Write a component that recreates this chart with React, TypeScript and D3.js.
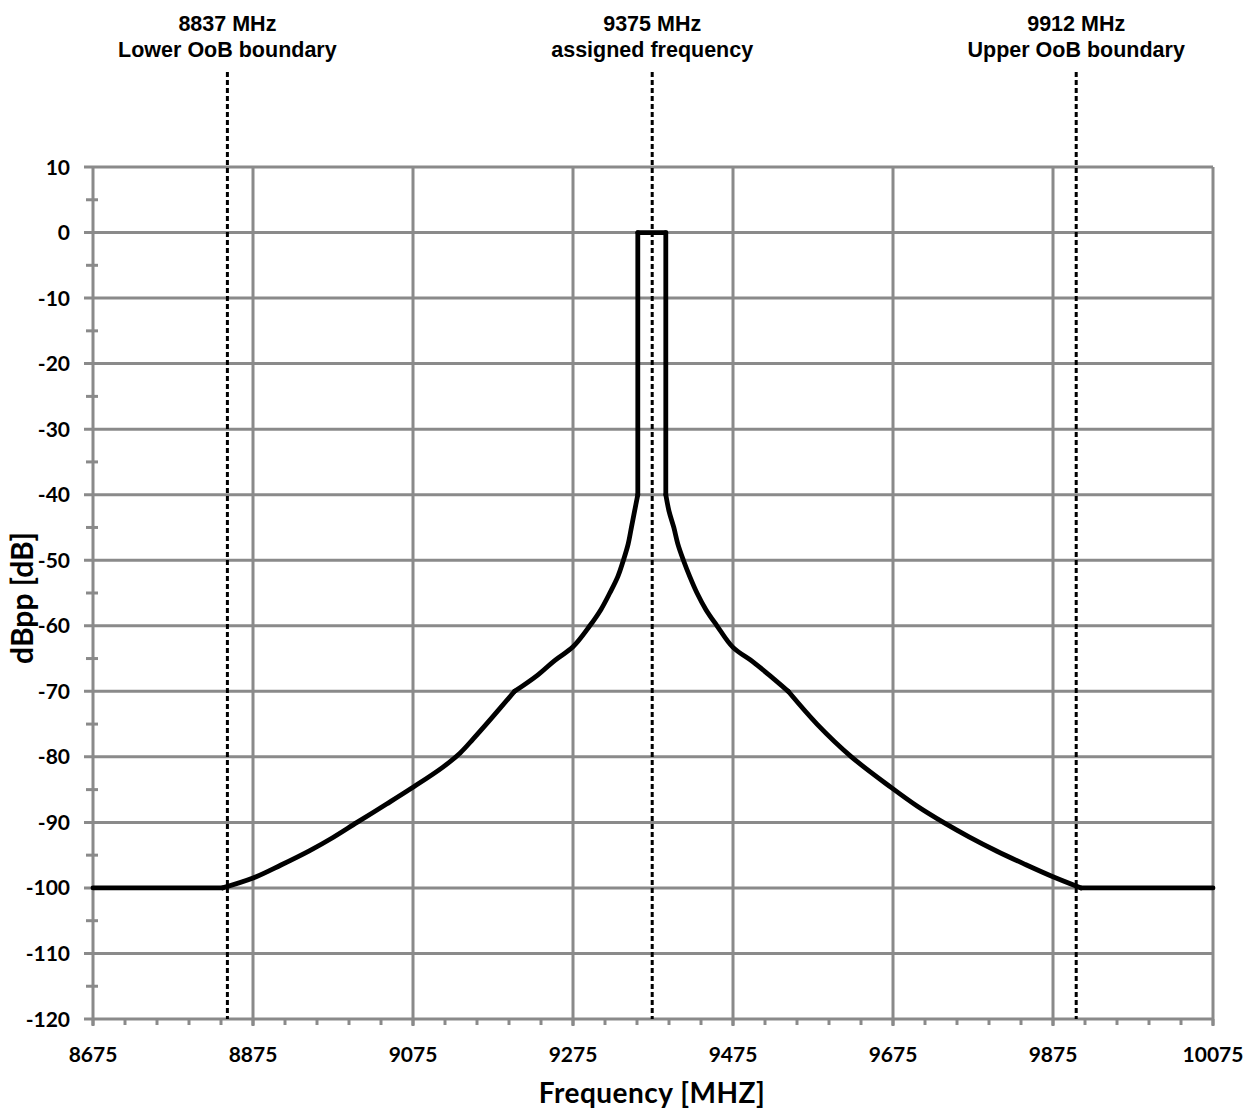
import React from "react";
import * as d3 from "d3";

// spectrum mask (MHz, dBpp)
const freq = [
  8675, 8837, 8875, 8910, 8946, 8975, 9005, 9042, 9073, 9112, 9134, 9150, 9171, 9202,
  9230, 9252, 9275, 9296, 9310, 9321, 9331, 9338, 9344, 9348, 9352, 9356,
  9356, 9391,
  9391, 9395, 9401, 9406, 9413, 9421, 9430, 9441, 9455, 9475, 9500, 9520, 9544,
  9580, 9623, 9673, 9705, 9738, 9770, 9805, 9840, 9875, 9910, 10075,
];
const dbpp = [
  -100, -100, -98.5, -96.5, -94.3, -92.3, -90, -87.2, -84.8, -81.6, -79.4, -77.3, -74.4, -70,
  -67.6, -65.3, -63.2, -60, -57.5, -55, -52.5, -50, -47.5, -45, -42.5, -40,
  0, 0,
  -40, -42.5, -45, -47.5, -50, -52.5, -55, -57.5, -60, -63.3, -65.5, -67.5, -70,
  -75, -80, -84.7, -87.5, -90, -92.2, -94.4, -96.4, -98.3, -100, -100,
];
// where the mask has corners
const kinks = [8837, 9202, 9356, 9391, 9544, 9910];

// marker lines (plotted position) and their labels
const markerFreq = [8843, 9374, 9904];
const markerTop = ["8837 MHz", "9375 MHz", "9912 MHz"];
const markerBottom = ["Lower OoB boundary", "assigned frequency", "Upper OoB boundary"];

const xTicks = [8675, 8875, 9075, 9275, 9475, 9675, 9875, 10075];
const yTicks = [10, 0, -10, -20, -30, -40, -50, -60, -70, -80, -90, -100, -110, -120];

const W = 1245;
const H = 1108;
const left = 93;
const right = 1213;
const top = 167;
const bottom = 1019;

const grid = "#8a8a8a";
const tickFont = "Lato, 'Noto Sans', sans-serif";
const labelFont = "'Liberation Sans', Arial, sans-serif";

type P = [number, number];

export default function App() {
  const x = d3.scaleLinear().domain([8675, 10075]).range([left, right]);
  const y = d3.scaleLinear().domain([10, -120]).range([top, bottom]);

  const pts: P[] = freq.map((f, i) => [f, dbpp[i]]);

  // split the mask at its corners, smooth the curved runs only
  const runs: P[][] = [];
  let cur: P[] = [];
  pts.forEach((p, i) => {
    cur.push(p);
    const next = pts[i + 1];
    const corner = kinks.includes(p[0]) && cur.length > 1;
    const vert = next && next[0] === p[0];
    if ((corner || vert) && i < pts.length - 1) {
      runs.push(cur);
      cur = [p];
    }
  });
  runs.push(cur);

  const smooth = d3.line<P>().x((d) => x(d[0])).y((d) => y(d[1])).curve(d3.curveCatmullRom.alpha(0.5));
  const straight = d3.line<P>().x((d) => x(d[0])).y((d) => y(d[1]));

  const minorX = d3.range(8675, 10076, 40);
  const minorY = d3.range(10, -121, -5).filter((v) => v % 10 !== 0);

  return (
    <svg
      width={W}
      height={H}
      style={{ position: "absolute", left: 0, top: 0, background: "#fff" }}
    >
      {/* grid */}
      <g stroke={grid} strokeWidth={3}>
        {yTicks.map((t) => (
          <line key={"h" + t} x1={left - 9} x2={right} y1={y(t)} y2={y(t)} />
        ))}
        {xTicks.map((t) => (
          <line key={"v" + t} x1={x(t)} x2={x(t)} y1={top} y2={bottom + 7} />
        ))}
        {minorX.map((t) => (
          <line key={"mx" + t} x1={x(t)} x2={x(t)} y1={bottom} y2={bottom + 6} />
        ))}
        {minorY.map((t) => (
          <line key={"my" + t} x1={left - 7} x2={left + 5} y1={y(t)} y2={y(t)} />
        ))}
      </g>

      {/* tick labels */}
      <g fontFamily={tickFont} fontWeight="bold" fontSize={21} fill="#000">
        {yTicks.map((t) => (
          <text key={"yl" + t} x={70} y={y(t)} dy="0.36em" textAnchor="end">
            {t}
          </text>
        ))}
        {xTicks.map((t) => (
          <text key={"xl" + t} x={x(t)} y={1062} textAnchor="middle">
            {t}
          </text>
        ))}
      </g>

      {/* axis titles */}
      <text
        x={652}
        y={1103}
        textAnchor="middle"
        fontFamily={tickFont}
        fontWeight="bold"
        fontSize={28}
        letterSpacing={0.5}
      >
        Frequency [MHZ]
      </text>
      <text
        transform={`translate(33,598) rotate(-90)`}
        textAnchor="middle"
        fontFamily={tickFont}
        fontWeight="bold"
        fontSize={30}
      >
        dBpp [dB]
      </text>

      {/* marker lines */}
      {markerFreq.map((f, i) => (
        <g key={"m" + i}>
          <line
            x1={x(f)}
            x2={x(f)}
            y1={72}
            y2={bottom}
            stroke="#000"
            strokeWidth={3}
            strokeDasharray="5 3"
          />
          <text
            x={x(f)}
            y={31}
            textAnchor="middle"
            fontFamily={labelFont}
            fontWeight="bold"
            fontSize={21.5}
          >
            {markerTop[i]}
          </text>
          <text
            x={x(f)}
            y={57}
            textAnchor="middle"
            fontFamily={labelFont}
            fontWeight="bold"
            fontSize={21.5}
          >
            {markerBottom[i]}
          </text>
        </g>
      ))}

      {/* mask */}
      <g fill="none" stroke="#000" strokeWidth={4.8} strokeLinejoin="round" strokeLinecap="round">
        {runs.map((r, i) => {
          const isStraight = r.length < 3 || r.some((p, j) => j > 0 && p[0] === r[j - 1][0]);
          return <path key={"r" + i} d={(isStraight ? straight(r) : smooth(r)) ?? ""} />;
        })}
      </g>
    </svg>
  );
}
